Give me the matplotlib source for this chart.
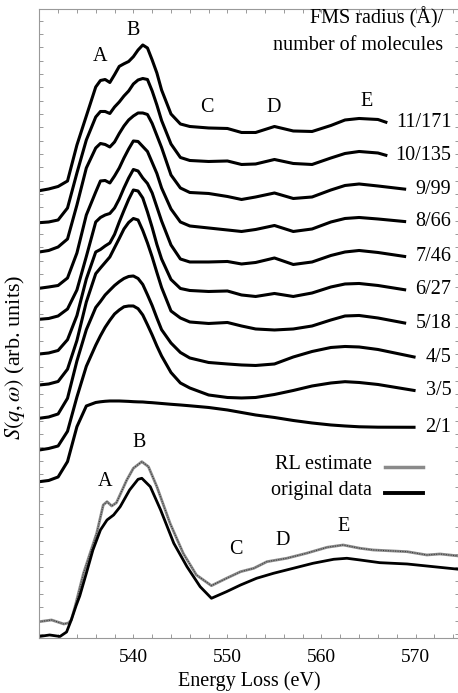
import numpy as np
import matplotlib
matplotlib.use("Agg")
import matplotlib.pyplot as plt
from matplotlib.ticker import MultipleLocator, FixedLocator

# energy grid shared by the FMS simulations (eV)
e_sim = [530, 531, 532, 533, 534, 535, 536, 536.5, 537, 537.5, 538, 538.5, 539, 539.5,
         540, 540.5, 541, 541.5, 542, 542.5, 543, 544, 545, 546, 548, 550, 551.5, 553,
         555, 557, 559, 561, 562.5, 564, 566]

sim_labels = ["11/171", "10/135", "9/99", "8/66", "7/46", "6/27", "5/18", "4/5", "3/5", "2/1"]
sim_end_e = [567, 567, 569, 569, 569, 569, 569, 570, 570, 570]

# offset spectra (arb. units), last value sits at sim_end_e
s_11_171 = [449.3, 451, 453.5, 459, 495, 524, 553, 559.5, 560.5, 557.5, 565.3, 573.6, 576.2, 578.5,
            583.3, 590, 595, 592, 580, 567, 550, 526, 516, 513.5, 512, 511.5, 507.5, 507.5,
            513.5, 509, 508.5, 514.5, 520, 521.5, 520.5, 517.3]
s_10_135 = [417.3, 418, 420, 432, 467, 500, 523, 528.5, 528.5, 526.5, 533, 538, 544, 549,
            556, 560, 561.5, 560.5, 549, 535, 519.5, 496, 482.5, 479.5, 478.5, 479, 475.5, 476,
            480.5, 476.5, 475.5, 482, 486.5, 488.5, 487, 484.3]
s_9_99 = [388, 389.5, 393, 401, 435, 472, 492, 496.5, 495.5, 493, 498, 506.5, 514, 520,
          524, 527, 527, 525.5, 516.5, 504.5, 492.5, 465, 452, 447.5, 446.5, 443.5, 440.5, 443,
          447, 441.5, 443, 450, 454.5, 456, 454, 450.7]
s_8_66 = [351.7, 353, 354.5, 362, 387, 425, 448, 459, 459.5, 457, 464, 472, 482, 491,
          499, 498.5, 493.5, 488.5, 477.5, 466.5, 452, 431, 418, 414, 412, 410, 408.5, 410.5,
          414.5, 408.5, 411, 418, 421.5, 422.5, 421, 418.3]
s_7_46 = [320.7, 321.5, 324, 331, 350, 383.5, 418, 422.5, 425, 426.5, 432, 441, 452, 462,
          470.5, 469, 462, 456.5, 447, 433, 419, 395, 381, 378, 378, 378.5, 376, 377.5,
          382, 375.5, 378, 384.5, 388, 389.5, 387.5, 383.3]
s_6_27 = [286, 287, 289.5, 300.3, 324.4, 361, 388, 390.5, 394, 397, 405.6, 418, 429.5, 440.6,
          450, 449, 442, 428, 412.5, 395.5, 381, 360.5, 351.5, 349.5, 348.5, 349, 345, 343.5,
          346.5, 343.5, 347, 353, 356, 356.5, 354.5, 350]
s_5_18 = [255, 256, 258.5, 270.8, 299.5, 338, 366.3, 372, 377.5, 383, 392.3, 401.5, 411, 417.5,
          421.5, 420, 409.5, 397, 383, 367.5, 352.5, 329, 322, 318, 316.5, 317.5, 314, 311,
          310, 311, 314, 320, 324, 324.5, 322, 316.7]
s_4_5 = [221.7, 223, 226, 241.7, 279, 310.3, 332.5, 338.5, 345, 349.8, 354.5, 358.3, 361.5, 363.5,
         364, 361.5, 355.5, 345.2, 334.4, 322, 310.3, 297, 287.5, 282, 277.5, 276, 275, 274.5,
         276, 283, 288.5, 292.5, 293.5, 293, 290.5, 282.7]
s_3_5 = [190, 191.5, 194, 208.7, 243, 273.7, 294.8, 304.2, 312.7, 319.7, 326, 330, 333.2, 334,
         334, 331.3, 325, 315.2, 305, 294, 284, 267.5, 257, 252, 245, 242.5, 242, 242.5,
         245.5, 249.5, 254, 257, 258.3, 257.5, 255.5, 249.3]
s_2_1 = [158.3, 159.5, 163, 178.4, 213.3, 234, 237.5, 238.2, 238.7, 239, 239, 239, 238.8, 238.6,
         238.3, 238.1, 238, 237.6, 237.3, 236.9, 236.5, 235.7, 235, 234.2, 232.5, 230, 227.5, 225,
         222.5, 219.5, 217, 215, 214, 213.2, 212.8, 212.7]
sim_spectra = [s_11_171, s_10_135, s_9_99, s_8_66, s_7_46, s_6_27, s_5_18, s_4_5, s_3_5, s_2_1]

# measured spectrum and its RL deconvolution
e_orig = [530.0, 531.1, 532.2, 532.9, 533.4, 533.9, 534.3, 535.0, 535.7, 536.5, 537.2, 537.9,
          538.6, 539.6, 540.5, 540.9, 541.8, 542.9, 544.3, 545.7, 547.1, 548.3, 549.9, 551.4,
          553.1, 554.9, 557.0, 559.1, 561.3, 562.7, 564.1, 566.2, 569.1, 571.9, 574.6]
v_orig = [3.5, 5, 3.5, 8, 20, 34, 44, 66.7, 90, 110, 120, 125,
          133.3, 150, 160.7, 161.7, 153.3, 130, 96.7, 73.3, 53.3, 41.7, 48.3, 55,
          61.7, 66.7, 71.7, 76.7, 80.7, 81.7, 80, 77.3, 76, 73.3, 70.7]
e_rl = [530.0, 531.3, 532.6, 533.1, 533.4, 533.8, 534.7, 535.4, 536.1, 536.8, 537.2, 537.7,
        538.2, 539.3, 540.0, 540.9, 541.6, 542.5, 543.9, 545.3, 546.7, 548.3, 549.9, 551.4,
        552.8, 554.2, 556.3, 558.4, 560.6, 562.3, 564.1, 565.5, 569.1, 571.2, 572.6, 574.6]
v_rl = [18.3, 20, 16, 17, 20, 33.3, 66.7, 86.7, 106.7, 135, 138.3, 134,
        137.3, 160, 171.7, 178.3, 173.3, 153.3, 116.7, 86.7, 65, 54.3, 61.7, 68.3,
        71.7, 78.3, 81.7, 86.7, 92.7, 95, 91.7, 90, 88.3, 85, 86, 84]

plt.rcParams["font.family"] = "Liberation Serif"
plt.rcParams["mathtext.fontset"] = "stix"
plt.rcParams["font.size"] = 14

fs = 14.5

fig = plt.figure(figsize=(4.58, 6.93), dpi=100)
ax = fig.add_axes([0.0858, 0.0794, 0.916, 0.9072])

for vals, end_e, lab in zip(sim_spectra, sim_end_e, sim_labels):
    ax.plot(e_sim + [end_e], vals, color="black", lw=2.2,
            solid_capstyle="butt", solid_joinstyle="round")
    ax.text(573.8, vals[-1], lab, ha="right", va="center", fontsize=fs)

ax.plot(e_rl, v_rl, color="#8a8a8a", lw=2.0, solid_joinstyle="round")
ax.plot(e_rl, v_rl, color="#333333", lw=0.7, ls=(0, (1, 1.5)))
ax.plot(e_orig, v_orig, color="black", lw=2.0, solid_joinstyle="round")

# peak labels
for lab, x, y in zip("ABCDE", [536.5, 540.0, 547.8, 554.9, 564.8], [583, 609, 532, 532, 538]):
    ax.text(x, y, lab, ha="center", va="center", fontsize=fs)
for lab, x, y in zip("ABCDE", [537.0, 540.6, 550.9, 555.9, 562.3], [158, 197, 90, 99, 113]):
    ax.text(x, y, lab, ha="center", va="center", fontsize=fs)

ax.text(572.9, 622, "FMS radius (Å)/", ha="right", va="center", fontsize=fs)
ax.text(572.9, 594, "number of molecules", ha="right", va="center", fontsize=fs)

# hand-made legend
ax.text(565.4, 175, "RL estimate", ha="right", va="center", fontsize=fs)
ax.text(565.4, 149, "original data", ha="right", va="center", fontsize=fs)
ax.plot([566.8, 570.8], [172.5, 172.5], color="#8a8a8a", lw=2.5)
ax.plot([566.8, 570.8], [147, 147], color="black", lw=2.8)

ax.set_xlim(530, 574.6)
ax.set_ylim(2, 630.7)
ax.xaxis.set_major_locator(FixedLocator([540, 550, 560, 570]))
ax.xaxis.set_minor_locator(MultipleLocator(2))
ax.yaxis.set_major_locator(FixedLocator(np.arange(6, 630, 13.33)))
ax.set_yticklabels([])
ax.tick_params(which="both", direction="in", length=3, width=0.7, color="#999999",
               top=True, right=True, labelsize=14, pad=8)
for sp in ax.spines.values():
    sp.set_color("#999999")
    sp.set_linewidth(0.8)

ax.set_xlabel("Energy Loss (eV)", fontsize=fs)
ax.xaxis.set_label_coords(0.5, -0.068)
ax.xaxis.label.set_va("center")
ax.set_ylabel(r"$S(q,\omega)$ (arb. units)", fontsize=16)
ax.yaxis.set_label_coords(-0.058, 0.447)
ax.yaxis.label.set_va("center")

fig.savefig("out.png", dpi=100)
